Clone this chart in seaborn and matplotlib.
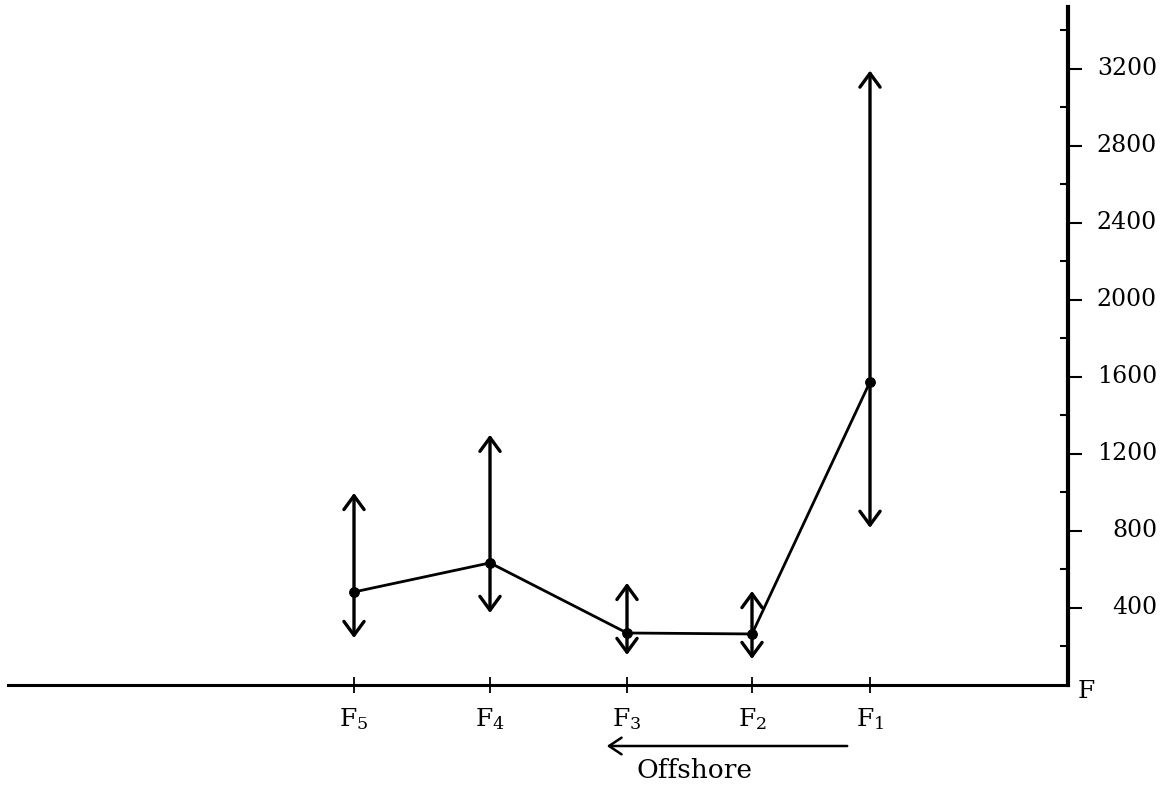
import matplotlib
matplotlib.use("Agg")
import matplotlib.pyplot as plt
from matplotlib.ticker import FixedLocator, NullFormatter
from matplotlib.patches import FancyArrowPatch
from matplotlib.transforms import blended_transform_factory
import seaborn as sns
import pandas as pd

# Stations along the transect, ordered from offshore (F5) to nearshore (F1)
stations = ["F$_5$", "F$_4$", "F$_3$", "F$_2$", "F$_1$"]
station_pos = [346, 482, 619, 744, 862]
mean_vals = [483, 634, 270, 265, 1574]
upper_vals = [997, 1299, 530, 488, 3190]
lower_vals = [244, 374, 156, 135, 816]
y_ticks = [400, 800, 1200, 1600, 2000, 2400, 2800, 3200]

sns.set_theme(style="white")
plt.rcParams["font.family"] = ["DejaVu Serif"]
plt.rcParams["mathtext.fontset"] = "dejavuserif"
plt.rcParams["mathtext.default"] = "regular"
plt.rcParams["text.color"] = "black"
plt.rcParams["xtick.color"] = "black"
plt.rcParams["ytick.color"] = "black"

df = pd.DataFrame({"pos": station_pos, "mean": mean_vals})

fig = plt.figure(figsize=(11.76, 7.87), dpi=100)
W, H = 1176, 787
ax = fig.add_axes([8 / W, (H - 685) / H, (1068 - 8) / W, (685 - 7) / H])

sns.lineplot(data=df, x="pos", y="mean", ax=ax, color="black", lw=2.0,
             marker="o", markersize=7, markeredgecolor="black", sort=False)

# Range arrows from each mean up to the maximum and down to the minimum
arrow_kw = dict(arrowstyle="->,head_length=0.45,head_width=0.33",
                color="black", lw=2.4, mutation_scale=22,
                shrinkA=0, shrinkB=0)
for x, m, hi, lo in zip(station_pos, mean_vals, upper_vals, lower_vals):
    ax.annotate("", xy=(x, hi), xytext=(x, m), arrowprops=arrow_kw)
    ax.annotate("", xy=(x, lo), xytext=(x, m), arrowprops=arrow_kw)

ax.set_xlim(0, 1060)
ax.set_ylim(0, 3520)

for s in ["top", "left"]:
    ax.spines[s].set_visible(False)
ax.spines["bottom"].set_linewidth(2.2)
ax.spines["right"].set_linewidth(3.0)
for s in ["bottom", "right"]:
    ax.spines[s].set_color("black")

ax.xaxis.set_major_locator(FixedLocator(station_pos))
ax.set_xticklabels(stations, fontsize=18, color="black")
ax.tick_params(axis="x", direction="inout", length=12, width=1.3,
               color="black", pad=9, bottom=True)

ax.yaxis.tick_right()
ax.yaxis.set_major_locator(FixedLocator(y_ticks))
ax.yaxis.set_minor_locator(FixedLocator([200 + 400 * i for i in range(9)]))
ax.yaxis.set_major_formatter(NullFormatter())
ax.tick_params(axis="y", which="major", direction="out", length=10, width=1.5,
               color="black", right=True, left=False)
ax.tick_params(axis="y", which="minor", direction="in", length=6, width=1.5,
               color="black", right=True, left=False)
ax.set_xlabel("")
ax.set_ylabel("")
ax.grid(False)

# Right-aligned value labels beside the right axis
label_tr = blended_transform_factory(fig.transFigure, ax.transData)
for v in y_ticks:
    ax.text(1157 / W, v, str(v), transform=label_tr, fontsize=17,
            ha="right", va="center", color="black", clip_on=False)

# Axis end label and offshore direction marker
fig.text(1078 / W, 1 - 692 / H, "F", fontsize=18, ha="left", va="center",
         color="black")
fig.patches.append(FancyArrowPatch(
    (850 / W, 1 - 746 / H), (604 / W, 1 - 746 / H),
    transform=fig.transFigure, arrowstyle="->,head_length=0.45,head_width=0.3",
    mutation_scale=20, lw=1.8, color="black"))
fig.text(695 / W, 1 - 771 / H, "Offshore", fontsize=19, ha="center",
         va="center", color="black")

fig.savefig("out.png", dpi=100)
